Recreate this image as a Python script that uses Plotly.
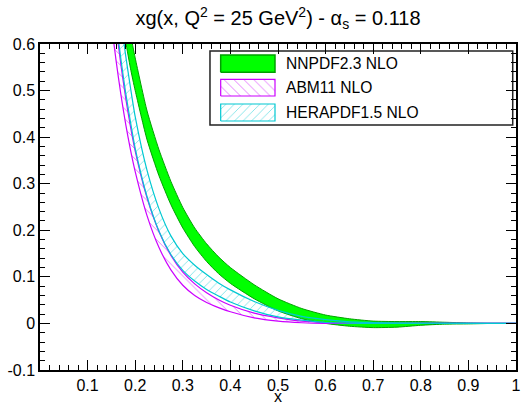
import plotly.graph_objects as go

# ---------------- data ----------------
x_nnpdf = [0.16, 0.17, 0.18, 0.19, 0.20, 0.225, 0.25, 0.275, 0.30, 0.325, 0.35, 0.375, 0.40,
           0.45, 0.50, 0.55, 0.60, 0.65, 0.70, 0.75, 0.80, 0.85, 0.90, 0.95, 1.00]
nnpdf_lo = [0.735, 0.668, 0.605, 0.548, 0.500, 0.394, 0.317, 0.255, 0.205, 0.165, 0.133, 0.107,
            0.086, 0.053, 0.027, 0.010, 0.000, -0.006, -0.009, -0.008, -0.004, -0.0015, -0.001, 0.0, 0.0]
nnpdf_hi = [0.825, 0.752, 0.685, 0.622, 0.570, 0.456, 0.373, 0.305, 0.249, 0.205, 0.171, 0.143,
            0.120, 0.083, 0.053, 0.032, 0.018, 0.010, 0.005, 0.004, 0.004, 0.0025, 0.001, 0.0, 0.0]

x_abm = [0.14, 0.15, 0.16, 0.17, 0.18, 0.19, 0.20, 0.225, 0.25, 0.275, 0.30, 0.325, 0.35, 0.375,
         0.40, 0.45, 0.50, 0.55, 0.60, 0.65, 0.80, 1.00]
abm_lo = [0.74, 0.645, 0.563, 0.491, 0.428, 0.373, 0.326, 0.231, 0.163, 0.115, 0.082, 0.060, 0.045,
          0.034, 0.025, 0.012, 0.005, 0.0015, 0.0, 0.0, 0.0, 0.0]
abm_hi = [0.84, 0.735, 0.637, 0.555, 0.484, 0.423, 0.370, 0.269, 0.197, 0.146, 0.110, 0.085, 0.066,
          0.051, 0.039, 0.022, 0.012, 0.005, 0.002, 0.0, 0.0, 0.0]

x_hera = [0.15, 0.16, 0.17, 0.18, 0.19, 0.20, 0.225, 0.25, 0.275, 0.30, 0.325, 0.35, 0.375, 0.40,
          0.45, 0.50, 0.55, 0.60, 0.65, 0.70, 0.80, 1.00]
hera_lo = [0.74, 0.648, 0.567, 0.495, 0.433, 0.376, 0.272, 0.198, 0.148, 0.114, 0.091, 0.073, 0.059,
           0.046, 0.027, 0.014, 0.007, 0.002, 0.0005, 0.0, 0.0, 0.0]
hera_hi = [0.84, 0.742, 0.653, 0.575, 0.507, 0.444, 0.328, 0.246, 0.188, 0.150, 0.125, 0.105, 0.087,
           0.072, 0.047, 0.028, 0.015, 0.008, 0.0035, 0.002, 0.0, 0.0]

series_names = ["NNPDF2.3 NLO", "ABM11 NLO", "HERAPDF1.5 NLO"]

x_tickvals = [0.1, 0.2, 0.3, 0.4, 0.5, 0.6, 0.7, 0.8, 0.9, 1.0]
x_ticktext = ["0.1", "0.2", "0.3", "0.4", "0.5", "0.6", "0.7", "0.8", "0.9", "1"]
y_tickvals = [-0.1, 0.0, 0.1, 0.2, 0.3, 0.4, 0.5, 0.6]
y_ticktext = ["-0.1", "0", "0.1", "0.2", "0.3", "0.4", "0.5", "0.6"]

# ---------------- styles ----------------
FONT = "Liberation Sans, Arial, Helvetica, sans-serif"
GREEN_FILL = "#00ff00"
GREEN_EDGE = "#00a000"
MAGENTA = "#cc00ff"
CYAN = "#00c8d2"
LINE = dict(shape="spline", smoothing=0.6)

fig = go.Figure()

# NNPDF band (solid green)
fig.add_trace(go.Scatter(x=x_nnpdf, y=nnpdf_lo, mode="lines",
                         line=dict(color=GREEN_EDGE, width=1, **LINE),
                         showlegend=False, hoverinfo="skip"))
fig.add_trace(go.Scatter(x=x_nnpdf, y=nnpdf_hi, mode="lines", fill="tonexty",
                         fillcolor=GREEN_FILL,
                         line=dict(color=GREEN_EDGE, width=1, **LINE),
                         name=series_names[0], showlegend=False))

# ABM band (magenta hatch \)
fig.add_trace(go.Scatter(x=x_abm, y=abm_lo, mode="lines",
                         line=dict(color=MAGENTA, width=1.2, **LINE),
                         showlegend=False, hoverinfo="skip"))
fig.add_trace(go.Scatter(x=x_abm, y=abm_hi, mode="lines", fill="tonexty",
                         fillpattern=dict(shape="\\", fgcolor=MAGENTA, bgcolor="rgba(255,255,255,0)",
                                          size=7, solidity=0.14),
                         line=dict(color=MAGENTA, width=1.2, **LINE),
                         name=series_names[1], showlegend=False))

# HERAPDF band (cyan hatch /)
fig.add_trace(go.Scatter(x=x_hera, y=hera_lo, mode="lines",
                         line=dict(color=CYAN, width=1.2, **LINE),
                         showlegend=False, hoverinfo="skip"))
fig.add_trace(go.Scatter(x=x_hera, y=hera_hi, mode="lines", fill="tonexty",
                         fillpattern=dict(shape="/", fgcolor=CYAN, bgcolor="rgba(255,255,255,0)",
                                          size=6, solidity=0.15),
                         line=dict(color=CYAN, width=1.2, **LINE),
                         name=series_names[2], showlegend=False))

# ---------------- custom legend (overlay axes spanning [0,1]) ----------------
sw_x0, sw_x1 = 0.3796, 0.4937
rows = [(0.9132, 0.9663), (0.8405, 0.8917), (0.7638, 0.8160)]
sw_styles = [
    dict(fillcolor=GREEN_FILL, line=dict(color=GREEN_EDGE, width=1.5)),
    dict(fillpattern=dict(shape="\\", fgcolor=MAGENTA, bgcolor="rgba(255,255,255,0)", size=7, solidity=0.14),
         line=dict(color=MAGENTA, width=1.2)),
    dict(fillpattern=dict(shape="/", fgcolor=CYAN, bgcolor="rgba(255,255,255,0)", size=6, solidity=0.15),
         line=dict(color=CYAN, width=1.2)),
]
for (y0, y1), st in zip(rows, sw_styles):
    fig.add_trace(go.Scatter(x=[sw_x0, sw_x1, sw_x1, sw_x0, sw_x0],
                             y=[y0, y0, y1, y1, y0], mode="lines", fill="toself",
                             xaxis="x2", yaxis="y2", showlegend=False, hoverinfo="skip", **st))

text_ys = [0.940, 0.866, 0.790]
for name, ty in zip(series_names, text_ys):
    fig.add_annotation(x=0.514, y=ty, xref="paper", yref="paper", text=name,
                       showarrow=False, xanchor="left", yanchor="middle", borderpad=0,
                       font=dict(family=FONT, size=15.6, color="black"))

fig.add_shape(type="rect", xref="paper", yref="paper", x0=0.3571, x1=0.9931, y0=0.7515, y1=0.9785,
              line=dict(color="#222222", width=1.5), fillcolor="white", layer="below")

# x-axis title as annotation (placed just below the tick labels)
fig.add_annotation(x=0.5, y=-0.081, xref="paper", yref="paper", text="x", showarrow=False,
                   xanchor="center", yanchor="middle", borderpad=0,
                   font=dict(family=FONT, size=16, color="black"))

axis_common = dict(showgrid=False, zeroline=False, showline=True, linecolor="black", linewidth=1.5,
                   mirror="allticks", ticks="inside", ticklen=10, tickwidth=1.2, tickcolor="black",
                   automargin=False,
                   tickfont=dict(family=FONT, size=16, color="black"))

fig.update_layout(
    width=530, height=406,
    margin=dict(l=40, r=14, t=44, b=36),
    paper_bgcolor="white", plot_bgcolor="white",
    showlegend=False,
    title=dict(text="xg(x, Q<sup>2</sup> = 25 GeV<sup>2</sup>) - α<sub>s</sub> = 0.118",
               x=0.5, xref="paper", xanchor="center", y=1 - 18 / 406, yanchor="middle",
               font=dict(family=FONT, size=20, color="black")),
    xaxis=dict(range=[0, 1], tickvals=x_tickvals, ticktext=x_ticktext, ticklabelstandoff=0,
               minor=dict(dtick=0.02, ticks="inside", ticklen=5, tickcolor="black", tickwidth=1),
               **axis_common),
    yaxis=dict(range=[-0.1, 0.6], tickvals=y_tickvals, ticktext=y_ticktext, ticklabelstandoff=0,
               minor=dict(dtick=0.02, ticks="inside", ticklen=5, tickcolor="black", tickwidth=1),
               **axis_common),
    xaxis2=dict(overlaying="x", range=[0, 1], visible=False, anchor="y2", fixedrange=True),
    yaxis2=dict(overlaying="y", range=[0, 1], visible=False, anchor="x2", fixedrange=True),
)

fig.write_html("out.html", config={"displayModeBar": False},
               post_script="document.body.style.margin='0';document.body.style.overflow='hidden';")
